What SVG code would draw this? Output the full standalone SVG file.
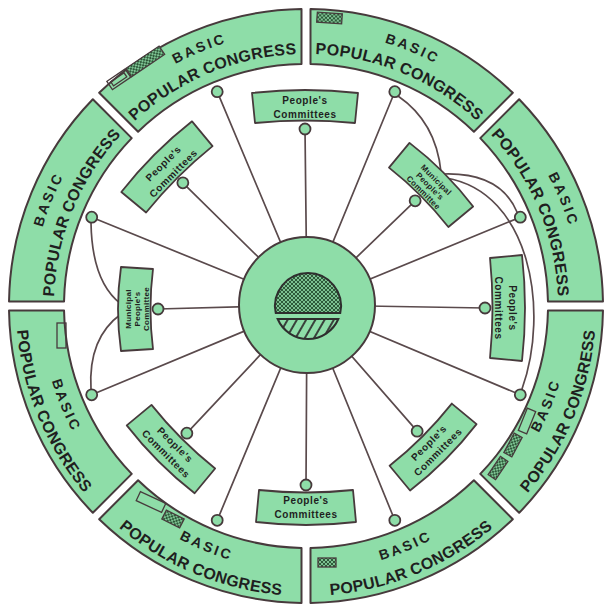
<svg xmlns="http://www.w3.org/2000/svg" width="605" height="608" viewBox="0 0 605 608">
<defs>
<style>
.seg{fill:#8edda8;stroke:#473a3c;stroke-width:2;stroke-linejoin:round}
.box{fill:#8edda8;stroke:#473a3c;stroke-width:1.8;stroke-linejoin:round}
.knob{fill:#8edda8;stroke:#473a3c;stroke-width:1.8}
.spoke{fill:none;stroke:#5a4a4c;stroke-width:1.7;stroke-linecap:round}
.deco{fill:none;stroke:#473a3c;stroke-width:1.3}
.decoh{fill:url(#xh);stroke:#473a3c;stroke-width:1.3}
.t1{font-family:"Liberation Sans",Arial,sans-serif;font-weight:bold;font-size:14px;letter-spacing:2.6px;fill:#1f1f1f;text-anchor:middle}
.t2{font-family:"Liberation Sans",Arial,sans-serif;font-weight:bold;font-size:16px;letter-spacing:0.3px;fill:#1f1f1f;text-anchor:middle}
.bt{font-family:"Liberation Sans",Arial,sans-serif;font-weight:bold;font-size:10px;letter-spacing:0.6px;fill:#1f1f1f;text-anchor:middle}
.mt{font-family:"Liberation Sans",Arial,sans-serif;font-weight:bold;font-size:8px;letter-spacing:0.3px;fill:#1f1f1f;text-anchor:middle}
</style>
<pattern id="xh" width="4" height="4" patternUnits="userSpaceOnUse"><rect width="4" height="4" fill="#7cc191"/><path d="M0 0L4 4M4 0L0 4" stroke="#2e5a3a" stroke-width="1"/></pattern>
<pattern id="dh" width="8" height="8" patternUnits="userSpaceOnUse" patternTransform="rotate(30)"><rect width="8" height="8" fill="#8edda8"/><line x1="1" y1="0" x2="1" y2="8" stroke="#2f2f2f" stroke-width="1.8"/></pattern>
<path id="p-lu-b" d="M 31 306 A 275 275 0 0 1 111.55 111.55"/>
<path id="p-lu-p" d="M 54 306 A 252 252 0 0 1 127.81 127.81"/>
<path id="p-tl-b" d="M 111.55 111.55 A 275 275 0 0 1 306 31"/>
<path id="p-tl-p" d="M 127.81 127.81 A 252 252 0 0 1 306 54"/>
<path id="p-tr-b" d="M 306 31 A 275 275 0 0 1 500.45 111.55"/>
<path id="p-tr-p" d="M 306 54 A 252 252 0 0 1 484.19 127.81"/>
<path id="p-ru-b" d="M 500.45 111.55 A 275 275 0 0 1 581 306"/>
<path id="p-ru-p" d="M 484.19 127.81 A 252 252 0 0 1 558 306"/>
<path id="p-rl-b" d="M 493.39 493.39 A 265 265 0 0 0 571 306"/>
<path id="p-rl-p" d="M 511.06 511.06 A 290 290 0 0 0 596 306"/>
<path id="p-br-b" d="M 306 571 A 265 265 0 0 0 493.39 493.39"/>
<path id="p-br-p" d="M 306 596 A 290 290 0 0 0 511.06 511.06"/>
<path id="p-bl-b" d="M 118.61 493.39 A 265 265 0 0 0 306 571"/>
<path id="p-bl-p" d="M 100.94 511.06 A 290 290 0 0 0 306 596"/>
<path id="p-ll-b" d="M 41 306 A 265 265 0 0 0 118.61 493.39"/>
<path id="p-ll-p" d="M 16 306 A 290 290 0 0 0 100.94 511.06"/>
</defs>
<rect width="605" height="608" fill="#ffffff"/>

<g id="connectors">
<line class="spoke" x1="307" y1="305" x2="217.2" y2="91.7"/>
<line class="spoke" x1="307" y1="305" x2="394.8" y2="91.7"/>
<line class="spoke" x1="307" y1="305" x2="520.3" y2="217.2"/>
<line class="spoke" x1="307" y1="305" x2="520.3" y2="394.8"/>
<line class="spoke" x1="307" y1="305" x2="394.8" y2="520.3"/>
<line class="spoke" x1="307" y1="305" x2="217.2" y2="520.3"/>
<line class="spoke" x1="307" y1="305" x2="91.7" y2="394.8"/>
<line class="spoke" x1="307" y1="305" x2="91.7" y2="217.2"/>
<line class="spoke" x1="307" y1="305" x2="305" y2="129"/>
<line class="spoke" x1="307" y1="305" x2="182.85" y2="182.85"/>
<line class="spoke" x1="307" y1="305" x2="415.15" y2="200.85"/>
<line class="spoke" x1="307" y1="305" x2="485" y2="308"/>
<line class="spoke" x1="307" y1="305" x2="158" y2="309"/>
<line class="spoke" x1="307" y1="305" x2="186.85" y2="433.15"/>
<line class="spoke" x1="307" y1="305" x2="417.15" y2="431.15"/>
<line class="spoke" x1="307" y1="305" x2="306" y2="485"/>
<path class="spoke" d="M 91 223 Q 92 282 121 304"/>
<path class="spoke" d="M 121 314 Q 88 338 91 389"/>
<path class="spoke" d="M 398 96 Q 436 122 441 172"/>
<path class="spoke" d="M 443 174 Q 500 172 517 212"/>
<path class="spoke" d="M 446 178 C 530 192 550 310 522 389"/>
</g>

<g id="seg-left-upper">
<path class="seg" d="M 9.03 301.5 A 297 297 0 0 1 92.83 99.19 L 131.73 138.09 A 242 242 0 0 0 64.04 301.5 Z"/>
<text class="t1"><textPath href="#p-lu-b" startOffset="50%">BASIC</textPath></text>
<text class="t2"><textPath href="#p-lu-p" startOffset="50%">POPULAR CONGRESS</textPath></text>
<circle class="knob" cx="91.7" cy="217.2" r="5.5"/>
</g>
<g id="seg-top-left">
<path class="seg" d="M 99.19 92.83 A 297 297 0 0 1 301.5 9.03 L 301.5 64.04 A 242 242 0 0 0 138.09 131.73 Z"/>
<g transform="translate(137 67) rotate(-34)">
<rect class="deco" x="-33" y="-5" width="22" height="10"/>
<rect class="deco" x="-30" y="-2.5" width="16" height="5"/>
<rect class="decoh" x="-10" y="-5" width="40" height="10"/>
</g>
<text class="t1"><textPath href="#p-tl-b" startOffset="50%">BASIC</textPath></text>
<text class="t2"><textPath href="#p-tl-p" startOffset="50%">POPULAR CONGRESS</textPath></text>
<circle class="knob" cx="217.2" cy="91.7" r="5.5"/>
</g>
<g id="seg-top-right">
<path class="seg" d="M 310.5 9.03 A 297 297 0 0 1 512.81 92.83 L 473.91 131.73 A 242 242 0 0 0 310.5 64.04 Z"/>
<rect class="decoh" x="317" y="13" width="25" height="10" transform="rotate(4 329 18)"/>
<text class="t1"><textPath href="#p-tr-b" startOffset="50%">BASIC</textPath></text>
<text class="t2"><textPath href="#p-tr-p" startOffset="50%">POPULAR CONGRESS</textPath></text>
<circle class="knob" cx="394.8" cy="91.7" r="5.5"/>
</g>
<g id="seg-right-upper">
<path class="seg" d="M 519.17 99.19 A 297 297 0 0 1 602.97 301.5 L 547.96 301.5 A 242 242 0 0 0 480.27 138.09 Z"/>
<text class="t1"><textPath href="#p-ru-b" startOffset="50%">BASIC</textPath></text>
<text class="t2"><textPath href="#p-ru-p" startOffset="50%">POPULAR CONGRESS</textPath></text>
<circle class="knob" cx="520.3" cy="217.2" r="5.5"/>
</g>
<g id="seg-right-lower">
<path class="seg" d="M 602.97 310.5 A 297 297 0 0 1 519.17 512.81 L 480.27 473.91 A 242 242 0 0 0 547.96 310.5 Z"/>
<rect class="deco" x="-12" y="-4.5" width="24" height="9" transform="translate(527 421) rotate(112)"/>
<rect class="decoh" x="-11" y="-4.5" width="22" height="9" transform="translate(513 445) rotate(118)"/>
<rect class="decoh" x="-11" y="-4.5" width="22" height="9" transform="translate(498 468) rotate(124)"/>
<text class="t1"><textPath href="#p-rl-b" startOffset="50%">BASIC</textPath></text>
<text class="t2"><textPath href="#p-rl-p" startOffset="50%">POPULAR CONGRESS</textPath></text>
<circle class="knob" cx="520.3" cy="394.8" r="5.5"/>
</g>
<g id="seg-bottom-right">
<path class="seg" d="M 512.81 519.17 A 297 297 0 0 1 310.5 602.97 L 310.5 547.96 A 242 242 0 0 0 473.91 480.27 Z"/>
<rect class="decoh" x="318" y="558" width="18" height="9"/>
<text class="t1"><textPath href="#p-br-b" startOffset="50%">BASIC</textPath></text>
<text class="t2"><textPath href="#p-br-p" startOffset="50%">POPULAR CONGRESS</textPath></text>
<circle class="knob" cx="394.8" cy="520.3" r="5.5"/>
</g>
<g id="seg-bottom-left">
<path class="seg" d="M 301.5 602.97 A 297 297 0 0 1 99.19 519.17 L 138.09 480.27 A 242 242 0 0 0 301.5 547.96 Z"/>
<rect class="deco" x="-14" y="-5" width="28" height="10" transform="translate(151 502) rotate(25)"/>
<rect class="decoh" x="-10" y="-5" width="20" height="10" transform="translate(173 519) rotate(27)"/>
<text class="t1"><textPath href="#p-bl-b" startOffset="50%">BASIC</textPath></text>
<text class="t2"><textPath href="#p-bl-p" startOffset="50%">POPULAR CONGRESS</textPath></text>
<circle class="knob" cx="217.2" cy="520.3" r="5.5"/>
</g>
<g id="seg-left-lower">
<path class="seg" d="M 92.83 512.81 A 297 297 0 0 1 9.03 310.5 L 64.04 310.5 A 242 242 0 0 0 131.73 473.91 Z"/>
<rect class="deco" x="57" y="323" width="9" height="25"/>
<text class="t1"><textPath href="#p-ll-b" startOffset="50%">BASIC</textPath></text>
<text class="t2"><textPath href="#p-ll-p" startOffset="50%">POPULAR CONGRESS</textPath></text>
<circle class="knob" cx="91.7" cy="394.8" r="5.5"/>
</g>

<g id="box-top" transform="translate(305 108)">
<path class="box" d="M -53 -15 Q 0 -21 53 -15 L 50 15 Q 0 10 -50 15 Z"/>
<text class="bt" x="0" y="-4">People's</text>
<text class="bt" x="0" y="10">Committees</text>
<circle class="knob" cx="0" cy="21" r="5.5"/>
</g>
<g id="box-upper-left" transform="translate(168 168) rotate(-45)">
<path class="box" d="M -50 -16 Q 0 -22 50 -16 L 47 16 Q 0 11 -47 16 Z"/>
<text class="bt" x="0" y="-3">People's</text>
<text class="bt" x="0" y="11">Committees</text>
<circle class="knob" cx="0" cy="21" r="5.5"/>
</g>
<g id="box-upper-right" transform="translate(430 186) rotate(45)">
<path class="box" d="M -45 -16 Q 0 -22 45 -16 L 42 16 Q 0 11 -42 16 Z"/>
<text class="mt" x="0" y="-6">Municipal</text>
<text class="mt" x="0" y="3">People's</text>
<text class="mt" x="0" y="12">Committee</text>
<circle class="knob" cx="0" cy="21" r="5.5"/>
</g>
<g id="box-right" transform="translate(506 308) rotate(90)">
<path class="box" d="M -53 -16 Q 0 -22 53 -16 L 50 16 Q 0 11 -50 16 Z"/>
<text class="bt" x="0" y="-3">People's</text>
<text class="bt" x="0" y="11">Committees</text>
<circle class="knob" cx="0" cy="21" r="5.5"/>
</g>
<g id="box-left" transform="translate(137 309) rotate(-90)">
<path class="box" d="M -42 -16 Q 0 -22 42 -16 L 40 16 Q 0 11 -40 16 Z"/>
<text class="mt" x="0" y="-6">Municipal</text>
<text class="mt" x="0" y="3">People's</text>
<text class="mt" x="0" y="12">Committee</text>
<circle class="knob" cx="0" cy="21" r="5.5"/>
</g>
<g id="box-lower-left" transform="translate(172 448) rotate(45)">
<path class="box" d="M -45 -16 Q 0 -11 45 -16 L 48 16 Q 0 22 -48 16 Z"/>
<text class="bt" x="0" y="-1">People's</text>
<text class="bt" x="0" y="12">Committees</text>
<circle class="knob" cx="0" cy="-21" r="5.5"/>
</g>
<g id="box-lower-right" transform="translate(432 446) rotate(-45)">
<path class="box" d="M -44 -16 Q 0 -11 44 -16 L 47 16 Q 0 22 -47 16 Z"/>
<text class="bt" x="0" y="-1">People's</text>
<text class="bt" x="0" y="12">Committees</text>
<circle class="knob" cx="0" cy="-21" r="5.5"/>
</g>
<g id="box-bottom" transform="translate(306 506)">
<path class="box" d="M -47 -16 Q 0 -11 47 -16 L 50 16 Q 0 22 -50 16 Z"/>
<text class="bt" x="0" y="-2">People's</text>
<text class="bt" x="0" y="12">Committees</text>
<circle class="knob" cx="0" cy="-21" r="5.5"/>
</g>

<g id="center">
<circle cx="307" cy="305" r="68" fill="#8edda8" stroke="#473a3c" stroke-width="2"/>
<path d="M 275.75 313 A 33 33 0 1 1 340.25 313 Z" fill="url(#xh)" stroke="#2e2e2e" stroke-width="2"/>
<path d="M 277.67 319 L 338.33 319 A 33 33 0 0 1 277.67 319 Z" fill="url(#dh)" stroke="#2e2e2e" stroke-width="2"/>
</g>
</svg>
